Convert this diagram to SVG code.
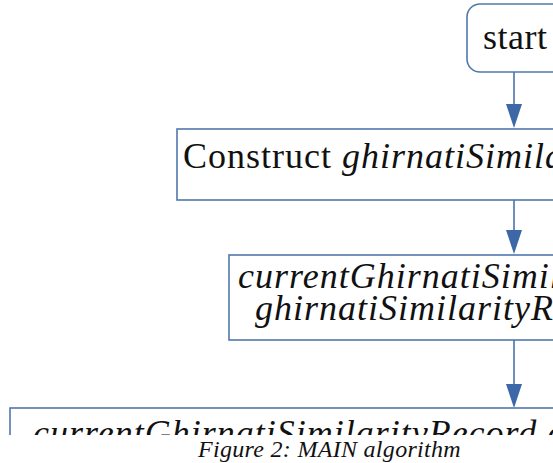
<svg xmlns="http://www.w3.org/2000/svg" width="553" height="463" viewBox="0 0 553 463">
<style>
.box{fill:#fff;stroke:#5078ad;stroke-width:1.6}
.t{font-family:"Liberation Serif","Times New Roman",serif;font-size:36px;letter-spacing:1px;fill:#111}
.i{font-style:italic}
.cn{stroke:#4a72aa;stroke-width:1.6;fill:none}
.cap{font-family:"Liberation Serif","Times New Roman",serif;font-size:24px;font-style:italic;letter-spacing:0.3px;fill:#111}
</style>
<defs>
<clipPath id="cl"><rect x="0" y="0" width="553" height="435"/></clipPath>
</defs>
<rect width="553" height="463" fill="#fff"/>
<g id="connectors">
<line class="cn" x1="514" y1="72" x2="514" y2="104"/>
<polygon points="506,104 522,104 514,128" fill="#3d68a8"/>
<line class="cn" x1="514" y1="200" x2="514" y2="230"/>
<polygon points="506,230 522,230 514,254" fill="#3d68a8"/>
<line class="cn" x1="514" y1="340" x2="514" y2="384"/>
<polygon points="506,384 522,384 514,408" fill="#3d68a8"/>
</g>
<g id="start">
<rect class="box" x="467" y="4" width="140" height="68" rx="13"/>
<text class="t" x="483" y="49" style="letter-spacing:0.5px">start</text>
</g>
<g id="construct">
<rect class="box" x="177" y="129" width="420" height="71"/>
<text class="t" x="183" y="168">Construct <tspan class="i">ghirnatiSimilarityRecords</tspan></text>
</g>
<g id="init">
<rect class="box" x="229" y="255" width="400" height="85"/>
<text class="t i" x="238" y="288">currentGhirnatiSimilarityRecord</text>
<text class="t i" x="255" y="320">ghirnatiSimilarityRecords</text>
</g>
<g id="assign" clip-path="url(#cl)">
<rect class="box" x="10" y="408" width="600" height="80"/>
<text class="t i" x="33" y="445">currentGhirnatiSimilarityRecord c</text>
</g>
<text class="cap" x="198" y="457">Figure 2: MAIN algorithm</text>
</svg>
